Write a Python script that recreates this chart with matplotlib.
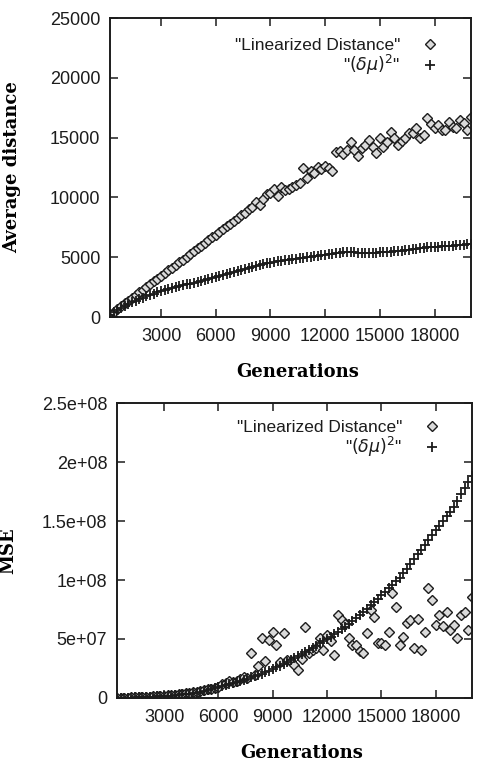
import matplotlib
matplotlib.use('Agg')
import matplotlib.pyplot as plt

# generations sampled every 200
gens_top = list(range(200, 20001, 200))
gens_mse = list(range(400, 20001, 200))

# average distance, "Linearized Distance" (diamonds)
avg_lin = [
    230, 460, 690, 920, 1150, 1380, 1610, 1840, 2070, 2300,
    2530, 2760, 2990, 3220, 3450, 3680, 3910, 4140, 4370, 4600,
    4800, 5030, 5270, 5500, 5740, 5960, 6200, 6420, 6660, 6880,
    7120, 7340, 7570, 7800, 8040, 8260, 8500, 8720, 9000, 9200,
    9650, 9400, 9900, 10300, 10350, 10700, 10150, 10850, 10600, 10700,
    10850, 11000, 11200, 12500, 11650, 12200, 12000, 12550, 12400, 12600,
    12450, 12200, 13800, 13900, 13600, 14000, 14650, 13950, 13450, 14100,
    14400, 14800, 14250, 13700, 14950, 14250, 14600, 15500, 14950, 14400,
    14700, 14950, 15350, 15400, 15800, 14950, 15200, 16600, 16150, 15800,
    16050, 15600, 15650, 16300, 15900, 15800, 16450, 16200, 15620, 16750,
]

# average distance, (delta mu)^2 (pluses)
avg_dmu = [
    190, 380, 560, 740, 910, 1070, 1230, 1370, 1500, 1630,
    1740, 1850, 1960, 2060, 2150, 2240, 2330, 2410, 2490, 2570,
    2650, 2730, 2800, 2880, 2950, 3030, 3100, 3180, 3260, 3340,
    3420, 3510, 3600, 3690, 3780, 3860, 3950, 4030, 4120, 4200,
    4270, 4340, 4410, 4480, 4550, 4600, 4650, 4700, 4740, 4780,
    4820, 4860, 4900, 4950, 5000, 5050, 5100, 5140, 5180, 5220,
    5260, 5300, 5340, 5380, 5420, 5440, 5440, 5420, 5390, 5360,
    5340, 5340, 5350, 5370, 5400, 5420, 5440, 5460, 5490, 5520,
    5550, 5590, 5620, 5660, 5700, 5740, 5780, 5820, 5840, 5860,
    5880, 5900, 5920, 5950, 5980, 6000, 6030, 6060, 6100, 6140,
]

# MSE in units of 1e6, "Linearized Distance" (diamonds)
mse_lin = [
    0.1, 0.2, 0.3, 0.4, 0.5, 0.6, 0.7, 0.8, 1.0, 1.2,
    1.4, 1.6, 1.8, 2.0, 2.3, 2.6, 2.9, 3.2, 3.6, 4.0,
    4.4, 4.9, 5.4, 6.0, 6.6, 7.3, 8.0, 8.5, 9.5, 11.5,
    12.5, 14.0, 13.5, 14.5, 16.0, 18.0, 17.0, 38.5, 19.5, 27.5,
    50.6, 31.6, 49.0, 56.0, 45.0, 30.8, 55.0, 32.2, 31.0, 28.0,
    23.7, 33.0, 60.4, 38.0, 40.5, 42.0, 50.6, 41.0, 53.4, 48.0,
    36.4, 70.3, 66.0, 63.0, 50.6, 45.0, 45.0, 40.0, 37.9, 54.8,
    74.6, 69.0, 46.3, 47.0, 45.0, 56.0, 88.7, 76.8, 45.0, 52.0,
    63.3, 66.0, 42.0, 67.0, 41.0, 56.0, 93.0, 83.0, 62.0, 70.0,
    61.0, 73.0, 58.0, 62.0, 50.6, 70.0, 73.0, 57.4, 86.0,
]

# MSE in units of 1e6, (delta mu)^2 (pluses)
mse_dmu = [
    0.1, 0.15, 0.2, 0.3, 0.35, 0.45, 0.55, 0.65, 0.8, 0.95,
    1.1, 1.3, 1.5, 1.7, 1.9, 2.1, 2.4, 2.7, 3.0, 3.3,
    3.7, 4.1, 4.6, 5.2, 5.8, 6.5, 7.3, 8.2, 9.0, 9.8,
    10.6, 11.5, 12.5, 13.5, 14.4, 15.4, 16.4, 17.4, 18.5, 19.6,
    20.7, 21.9, 23.2, 24.5, 25.9, 27.3, 28.8, 30.4, 32.0, 33.7,
    35.4, 37.1, 38.8, 40.5, 42.4, 44.3, 46.2, 48.1, 50.0, 52.0,
    54.0, 56.1, 58.3, 60.5, 62.9, 65.4, 67.9, 70.4, 73.0, 75.7,
    78.5, 81.3, 84.1, 87.0, 90.0, 93.0, 96.0, 99.0, 102.0, 105.8,
    109.6, 113.4, 117.4, 121.7, 125.8, 129.8, 133.8, 137.8, 142.0, 146.0,
    150.0, 154.0, 158.0, 162.0, 167.0, 172.5, 178.0, 183.0, 188.0,
]

x_ticks = [3000, 6000, 9000, 12000, 15000, 18000]
top_yticks = [0, 5000, 10000, 15000, 20000, 25000]
mse_yticks = [0, 5e7, 1e8, 1.5e8, 2e8, 2.5e8]
mse_yticklabels = ['0', '5e+07', '1e+08', '1.5e+08', '2e+08', '2.5e+08']

plt.rcParams['font.family'] = ['Liberation Sans', 'DejaVu Sans']
label_font = dict(family='DejaVu Serif', fontweight='bold', fontsize=13)
ink = '#1c1c1c'

fig = plt.figure(figsize=(4.81, 7.63), dpi=100)
ax1 = fig.add_axes([0.2287, 0.5845, 0.7505, 0.3919])
ax2 = fig.add_axes([0.2432, 0.0852, 0.7380, 0.3866])

leg_lin = '"Linearized Distance"'
leg_dmu = '"$(\\delta\\mu)^2$"'

ax1.plot(gens_top, avg_lin, ls='none', marker='D', ms=4.8, mew=1.0,
         mec=ink, mfc='#dadada', label=leg_lin)
ax1.plot(gens_top, avg_dmu, ls='none', marker='+', ms=6.5, mew=1.3,
         color=ink, label=leg_dmu)
ax1.set_xlim(200, 20000)
ax1.set_ylim(0, 25000)
ax1.set_yticks(top_yticks)
ax1.set_ylabel('Average distance', **label_font)
ax1.yaxis.set_label_coords(-0.245, 0.5)

mse_lin_v = [v * 1e6 for v in mse_lin]
mse_dmu_v = [v * 1e6 for v in mse_dmu]
ax2.plot(gens_mse, mse_lin_v, ls='none', marker='D', ms=4.8, mew=1.0,
         mec=ink, mfc='#dadada', label=leg_lin)
ax2.plot(gens_mse, mse_dmu_v, ls='none', marker='+', ms=6.5, mew=1.3,
         color=ink, label=leg_dmu)
ax2.set_xlim(400, 20000)
ax2.set_ylim(0, 2.5e8)
ax2.set_yticks(mse_yticks)
ax2.set_yticklabels(mse_yticklabels)
ax2.set_ylabel('MSE', **label_font)
ax2.yaxis.set_label_coords(-0.28, 0.5)

legend_anchor = {ax1: (0.925, 0.957), ax2: (0.926, 0.966)}

for ax in (ax1, ax2):
    ax.set_xticks(x_ticks)
    ax.set_xlabel('Generations', **label_font)
    ax.xaxis.set_label_coords(0.52, -0.155)
    ax.tick_params(direction='in', length=6, width=1.1, top=True, right=True,
                   labelsize=13, colors=ink)
    ax.tick_params(axis='x', pad=8)
    ax.tick_params(axis='y', pad=7)
    for sp in ax.spines.values():
        sp.set_linewidth(1.4)
        sp.set_color(ink)
    leg = ax.legend(loc='upper right', bbox_to_anchor=legend_anchor[ax],
                    frameon=False, markerfirst=False, fontsize=12.5,
                    handlelength=0.8, handletextpad=1.3, labelspacing=0.0,
                    borderaxespad=0.0)
    for t in leg.get_texts():
        t.set_color(ink)

fig.savefig('out.png', dpi=100)
